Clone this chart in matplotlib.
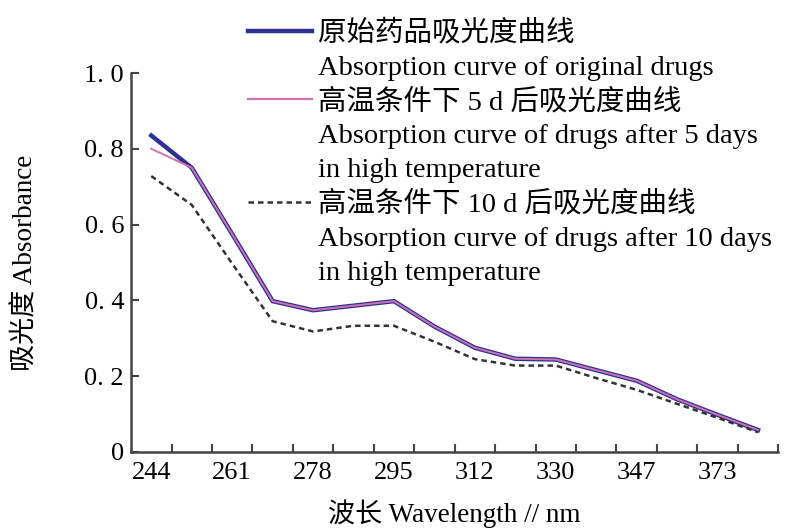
import matplotlib
matplotlib.use('Agg')
import matplotlib.pyplot as plt
from matplotlib.lines import Line2D
import numpy as np

plt.rcParams['font.family'] = ['Liberation Serif', 'Noto Sans CJK SC']

tick_labels = ['244', '261', '278', '295', '312', '330', '347', '373']
original = [0.835, 0.75, 0.575, 0.398, 0.374, 0.386, 0.398, 0.331, 0.275,
            0.246, 0.244, 0.216, 0.188, 0.139, 0.098, 0.058]
after_5d = [0.800, 0.75, 0.575, 0.398, 0.374, 0.386, 0.398, 0.331, 0.275,
            0.246, 0.244, 0.216, 0.188, 0.139, 0.098, 0.058]
after_10d = [0.728, 0.652, 0.497, 0.345, 0.318, 0.333, 0.333, 0.291, 0.245,
             0.228, 0.228, 0.195, 0.164, 0.127, 0.090, 0.052]
yticks = [0, 0.2, 0.4, 0.6, 0.8, 1.0]
ytick_labels = ['0', '0. 2', '0. 4', '0. 6', '0. 8', '1. 0']

legend_lines = ['原始药品吸光度曲线',
                'Absorption curve of original drugs',
                '高温条件下 5 d 后吸光度曲线',
                'Absorption curve of drugs after 5 days',
                'in high temperature',
                '高温条件下 10 d 后吸光度曲线',
                'Absorption curve of drugs after 10 days',
                'in high temperature']

BLUE = '#2e3192'
PINK = '#cf72b6'
GREY = '#333333'

fig = plt.figure(figsize=(8.09, 5.29), dpi=100)
ax = fig.add_axes([0.162, 0.1456, 0.8, 0.7164])

x = np.arange(len(original))
ax.plot(x, original, color=BLUE, lw=3.2, solid_joinstyle='miter')
ax.plot(x, after_5d, color=PINK, lw=1.4)
ax.plot(x, after_10d, color=GREY, lw=1.8, linestyle=(0, (2.2, 1.6)))

ax.set_xlim(-0.5, len(x) - 0.5)
ax.set_ylim(0, 1.0)

# tick marks sit between samples, labels on every second sample
ax.set_xticks(x + 0.5)
ax.set_xticklabels([])
ax.set_xticks(x[::2], tick_labels, minor=True)
ax.tick_params(axis='x', which='major', direction='in', length=6, width=1.5, color='#444444')
ax.tick_params(axis='x', which='minor', length=0, pad=7, labelsize=19)
ax.set_yticks(yticks, ytick_labels)
ax.tick_params(axis='y', direction='in', length=6, width=1.5, color='#444444', pad=5, labelsize=19)

for s in ['top', 'right']:
    ax.spines[s].set_visible(False)
for s in ['left', 'bottom']:
    ax.spines[s].set_linewidth(1.8)
    ax.spines[s].set_color('#444444')

ax.set_xlabel('波长 Wavelength // nm', fontsize=19.5, labelpad=11)
ax.set_ylabel('吸光度 Absorbance', fontsize=19.5, labelpad=33)

blank = Line2D([], [], linestyle='none')
handles = [Line2D([], [], color=BLUE, lw=3.2), blank,
           Line2D([], [], color=PINK, lw=1.6), blank, blank,
           Line2D([], [], color=GREY, lw=1.8, linestyle=(0, (2.2, 1.6))), blank, blank]
fig.legend(handles, legend_lines, loc='upper left',
           bbox_to_anchor=(248 / 809, 1 - 20 / 529), frameon=False,
           fontsize=20.5, handlelength=2.25, handletextpad=0.2,
           labelspacing=0.28, borderpad=0, borderaxespad=0)

fig.savefig('out.png', dpi=100)
